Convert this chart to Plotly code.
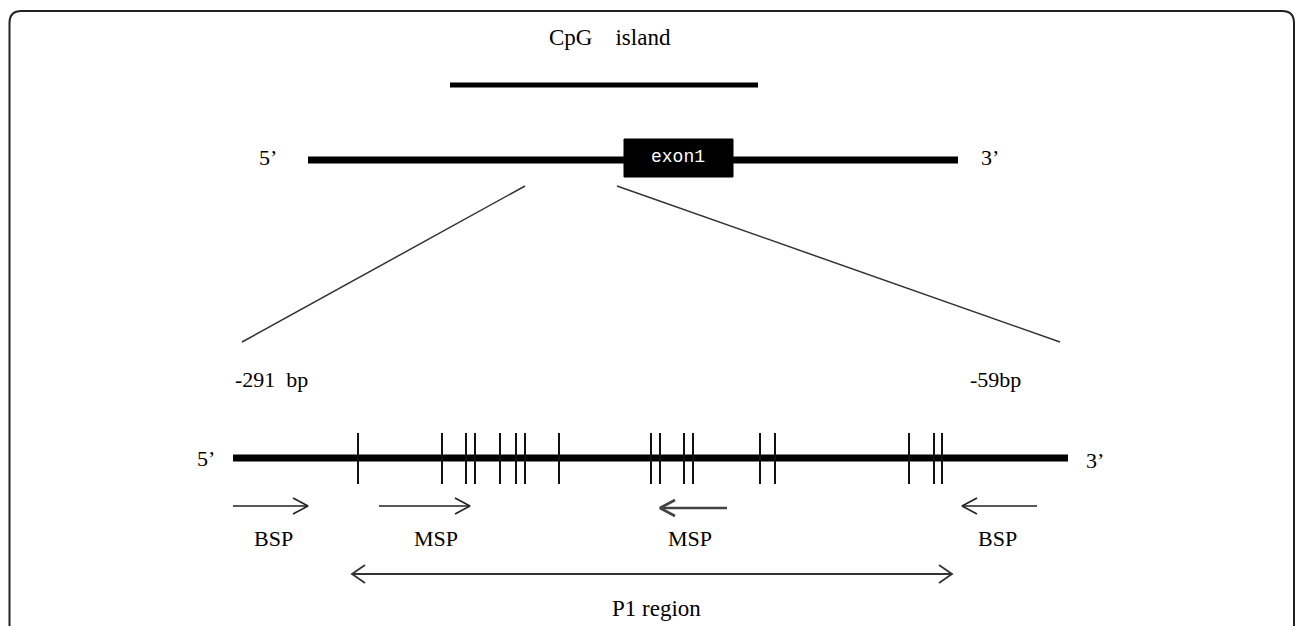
import plotly.graph_objects as go

# ---------------- data (diagram units along the horizontal axis) ----------------
cpg_island = [450, 758]
gene_span = [308, 958]
exon1 = [624, 733]
zoom_top = [525, 617]
zoom_bottom = [242, 1060]
region_span = [233, 1068]
region_labels = ["-291&nbsp;&nbsp;bp", "-59bp"]
region_label_x = [271, 995]
cpg_sites = [358, 442, 466, 475, 500, 516, 525, 559, 651, 660, 684, 693, 760, 775, 909, 934, 942]
primer_names = ["BSP", "MSP", "MSP", "BSP"]
primer_start = [233, 379, 727, 1037]
primer_end = [308, 470, 660, 962]
primer_label_x = [273, 436, 690, 997]
p1_region = [352, 952]

# ---------------- layout rows (style) ----------------
Y_CPG_TXT, Y_CPG, Y_GENE = 37, 85, 160
Y_ZT, Y_ZB, Y_BP = 186, 342, 379
Y_REG, Y_PR, Y_PRL, Y_P1, Y_P1L = 458, 506, 538, 574, 608
FONT = "Liberation Serif"
FS = 22
W, H = 1295, 626

fig = go.Figure()

def seg(xs, ys, width, color="black"):
    fig.add_trace(go.Scatter(x=xs, y=ys, mode="lines", hoverinfo="skip",
                             line=dict(color=color, width=width), showlegend=False))

# CpG island bar
seg(cpg_island, [Y_CPG, Y_CPG], 5)
# gene line
seg(gene_span, [Y_GENE, Y_GENE], 7)
# exon box
fig.add_trace(go.Scatter(x=[exon1[0], exon1[1], exon1[1], exon1[0], exon1[0]],
                         y=[Y_GENE - 21, Y_GENE - 21, Y_GENE + 17, Y_GENE + 17, Y_GENE - 21],
                         mode="lines", fill="toself", fillcolor="black",
                         line=dict(color="black", width=1), hoverinfo="skip", showlegend=False))
# zoom lines
seg([zoom_top[0], zoom_bottom[0]], [Y_ZT, Y_ZB], 1.5, "#333")
seg([zoom_top[1], zoom_bottom[1]], [Y_ZT, Y_ZB], 1.5, "#333")
# region line
seg(region_span, [Y_REG, Y_REG], 7)
# CpG sites
tx, ty = [], []
for s in cpg_sites:
    tx += [s, s, None]
    ty += [Y_REG - 25, Y_REG + 26, None]
fig.add_trace(go.Scatter(x=tx, y=ty, mode="lines", hoverinfo="skip",
                         line=dict(color="#111", width=2), showlegend=False))

# primers with open chevron heads
AH_DX, AH_DY = 15, 8
for i, (a, b) in enumerate(zip(primer_start, primer_end)):
    d = 1 if b > a else -1
    col = "#444" if i == 2 else "#222"
    wid = 2.6 if i == 2 else 1.6
    y0 = Y_PR + (2 if i == 2 else 0)
    seg([a, b, None, b - d * AH_DX, b, b - d * AH_DX],
        [y0, y0, None, y0 - AH_DY, y0, y0 + AH_DY], wid, col)

# P1 region double arrow
P_DX, P_DY = 13, 9
seg([p1_region[0], p1_region[1], None,
     p1_region[0] + P_DX, p1_region[0], p1_region[0] + P_DX, None,
     p1_region[1] - P_DX, p1_region[1], p1_region[1] - P_DX],
    [Y_P1, Y_P1, None, Y_P1 - P_DY, Y_P1, Y_P1 + P_DY, None,
     Y_P1 - P_DY, Y_P1, Y_P1 + P_DY], 1.8, "#333")

# ---------------- text ----------------
def txt(x, y, s, size=FS, color="black", family=FONT):
    fig.add_annotation(x=x, y=y, text=s, showarrow=False, xanchor="center", yanchor="middle",
                       font=dict(family=family, size=size, color=color))

txt(610, Y_CPG_TXT, "CpG&nbsp;&nbsp;&nbsp;&nbsp;island", 23)
txt(sum(exon1) / 2 - 1, Y_GENE - 3, "exon1", 18, "white", "Liberation Mono")
txt(gene_span[0] - 40, Y_GENE - 3, "5’")
txt(gene_span[1] + 32, Y_GENE - 3, "3’")
for lx, lab in zip(region_label_x, region_labels):
    txt(lx, Y_BP, lab)
txt(region_span[0] - 27, Y_REG, "5’")
txt(region_span[1] + 27, Y_REG + 2, "3’")
for name, lx in zip(primer_names, primer_label_x):
    txt(lx, Y_PRL, name)
txt(656, Y_P1L, "P1 region", 23)

# rounded frame
r = 12
L, T, R, B = 9.5, 11, 1294, 700
fig.add_shape(type="path", xref="x", yref="y",
              path=f"M {L},{B} L {L},{T + r} Q {L},{T} {L + r},{T} L {R - r},{T} Q {R},{T} {R},{T + r} L {R},{B}",
              line=dict(color="#222", width=2))

fig.update_layout(width=W, height=H, margin=dict(l=0, r=0, t=0, b=0),
                  plot_bgcolor="white", paper_bgcolor="white",
                  xaxis=dict(range=[0, W], visible=False, fixedrange=True),
                  yaxis=dict(range=[H, 0], visible=False, fixedrange=True))
fig.write_html("out.html", config={"displayModeBar": False},
               post_script="document.body.style.margin='0';document.body.style.overflow='hidden';")
